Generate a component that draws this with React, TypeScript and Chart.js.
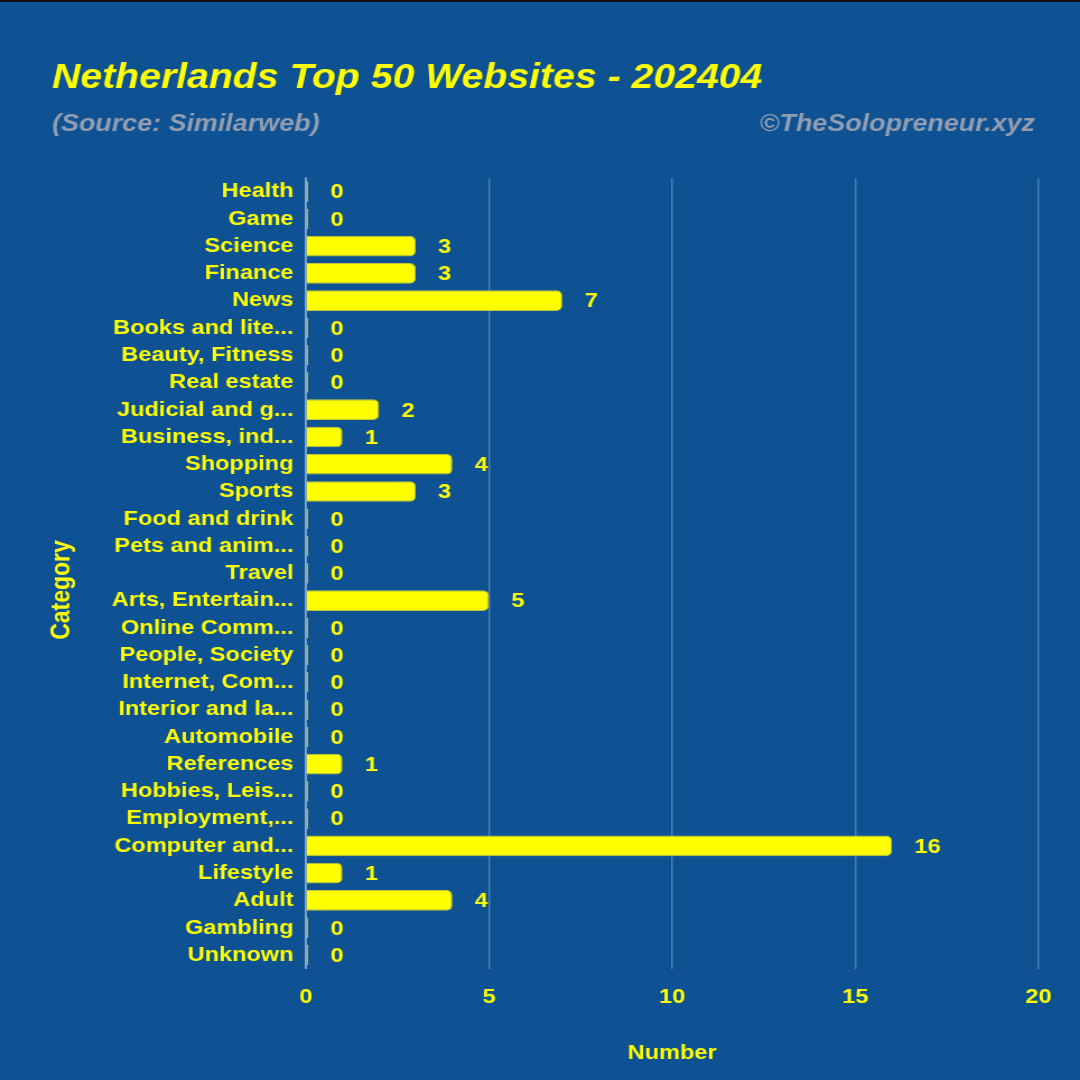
import React, { useEffect, useRef } from "react";
import { Chart, registerables } from "chart.js";

Chart.register(...registerables);

// ---------- data ----------
const categories: string[] = [
  "Health",
  "Game",
  "Science",
  "Finance",
  "News",
  "Books and lite...",
  "Beauty, Fitness",
  "Real estate",
  "Judicial and g...",
  "Business, ind...",
  "Shopping",
  "Sports",
  "Food and drink",
  "Pets and anim...",
  "Travel",
  "Arts, Entertain...",
  "Online Comm...",
  "People, Society",
  "Internet, Com...",
  "Interior and la...",
  "Automobile",
  "References",
  "Hobbies, Leis...",
  "Employment,...",
  "Computer and...",
  "Lifestyle",
  "Adult",
  "Gambling",
  "Unknown",
];

const counts: number[] = [
  0, 0, 3, 3, 7, 0, 0, 0, 2, 1, 4, 3, 0, 0, 0, 5, 0, 0, 0, 0, 0, 1, 0, 0, 16, 1, 4, 0, 0,
];

const xTickValues: number[] = [0, 5, 10, 15, 20];

const titleText = "Netherlands Top 50 Websites - 202404";
const sourceText = "(Source: Similarweb)";
const creditText = "©TheSolopreneur.xyz";
const xAxisTitle = "Number";
const yAxisTitle = "Category";

// ---------- style ----------
const BG = "#0e5294";
const YELLOW = "#ffff00";
const GREY = "#939db0";
const FONT = "'Liberation Sans', Arial, Helvetica, sans-serif";
const W = 964;
const H = 1080;
const K = 1080 / W;

const headerPlugin = {
  id: "headerPlugin",
  afterDraw(chart: any) {
    const ctx = chart.ctx as CanvasRenderingContext2D;
    ctx.save();
    ctx.fillStyle = "#111111";
    ctx.fillRect(0, 0, W, 2);
    ctx.textBaseline = "alphabetic";
    ctx.fillStyle = YELLOW;
    ctx.textAlign = "left";
    ctx.font = `italic bold 35px ${FONT}`;
    ctx.fillText(titleText, 52 / K, 88);
    ctx.fillStyle = GREY;
    ctx.font = `italic bold 24px ${FONT}`;
    ctx.fillText(sourceText, 52 / K, 131);
    ctx.textAlign = "right";
    ctx.fillText(creditText, 1035 / K, 131);
    // y-axis title
    ctx.save();
    ctx.translate(62 / K, 590);
    ctx.rotate(-Math.PI / 2);
    ctx.fillStyle = YELLOW;
    ctx.font = `bold 23px ${FONT}`;
    ctx.textAlign = "center";
    ctx.textBaseline = "middle";
    ctx.fillText(yAxisTitle, 0, 0);
    ctx.restore();
    ctx.restore();
  },
};

const valueLabelPlugin = {
  id: "valueLabelPlugin",
  afterDatasetsDraw(chart: any) {
    const ctx = chart.ctx as CanvasRenderingContext2D;
    const meta = chart.getDatasetMeta(0);
    const data = chart.data.datasets[0].data as number[];
    ctx.save();
    ctx.fillStyle = YELLOW;
    ctx.font = `bold 21px ${FONT}`;
    ctx.textAlign = "left";
    ctx.textBaseline = "middle";
    meta.data.forEach((el: any, i: number) => {
      ctx.fillText(String(data[i]), el.x + 20, el.y + 1);
    });
    ctx.restore();
  },
};

export default function App() {
  const canvasRef = useRef<HTMLCanvasElement | null>(null);

  useEffect(() => {
    document.body.style.margin = "0";
    const canvas = canvasRef.current;
    if (!canvas) return;
    const chart = new Chart(canvas, {
      type: "bar",
      data: {
        labels: categories,
        datasets: [
          {
            data: counts,
            backgroundColor: YELLOW,
            borderColor: "#c4c43a",
            borderWidth: 1,
            borderRadius: 5,
            borderSkipped: "start",
            barPercentage: 0.95,
            categoryPercentage: 0.8,
            minBarLength: 2,
          },
        ],
      },
      options: {
        indexAxis: "y",
        responsive: false,
        animation: false,
        devicePixelRatio: 1,
        layout: { padding: { top: 178, left: 30, right: 37, bottom: 14 } },
        plugins: {
          legend: { display: false },
          tooltip: { enabled: false },
          title: { display: false },
        },
        scales: {
          x: {
            min: xTickValues[0],
            max: xTickValues[xTickValues.length - 1],
            ticks: {
              stepSize: xTickValues[1] - xTickValues[0],
              color: YELLOW,
              font: { family: FONT, size: 21, weight: "bold" },
              padding: 16,
            },
            grid: {
              color: "rgba(255,255,255,0.25)",
              lineWidth: 1.5,
              drawTicks: false,
            },
            border: { display: false },
            title: {
              display: true,
              text: xAxisTitle,
              color: YELLOW,
              font: { family: FONT, size: 21, weight: "bold" },
              padding: { top: 15, bottom: 0 },
            },
          },
          y: {
            ticks: {
              autoSkip: false,
              color: YELLOW,
              font: { family: FONT, size: 21, weight: "bold" },
              padding: 11,
            },
            grid: { display: false, drawTicks: false },
            border: { display: true, color: "rgba(255,255,255,0.35)", width: 2 },
            title: { display: false },
            afterFit(scale: any) {
              scale.width = 243;
            },
          },
        },
      } as any,
      plugins: [headerPlugin, valueLabelPlugin],
    });
    return () => chart.destroy();
  }, []);

  return (
    <div
      style={{
        width: 1080,
        height: 1080,
        background: BG,
        overflow: "hidden",
        position: "relative",
      }}
    >
      <div
        style={{
          width: W,
          height: H,
          transform: `scaleX(${K})`,
          transformOrigin: "0 0",
        }}
      >
        <canvas
          ref={canvasRef}
          width={W}
          height={H}
          style={{ width: W, height: H, display: "block" }}
        />
      </div>
    </div>
  );
}
